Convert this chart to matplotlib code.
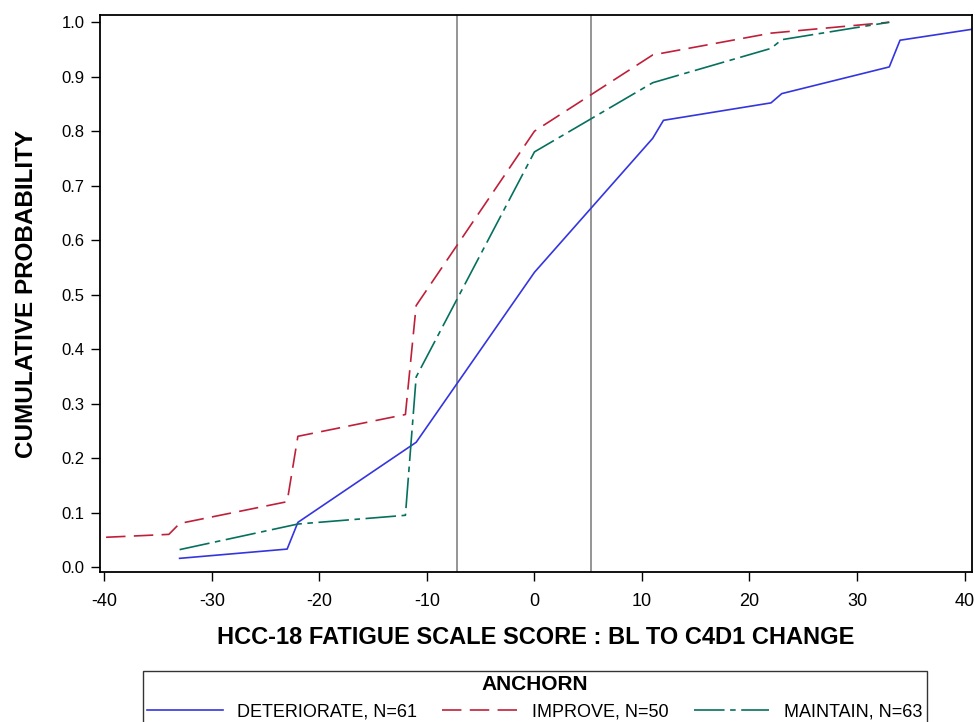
import matplotlib
matplotlib.use("Agg")
import matplotlib.pyplot as plt

# Cumulative distribution of change score by anchor group
x_det = [-33, -23, -22, -11, 0, 11, 12, 22, 23, 33, 34, 45]
y_det = [0.016, 0.033, 0.082, 0.229, 0.541, 0.787, 0.820, 0.852, 0.869, 0.918, 0.967, 1.0]

x_imp = [-45, -34, -33, -23, -22, -12, -11, 0, 11, 22, 33]
y_imp = [0.05, 0.06, 0.08, 0.12, 0.24, 0.28, 0.48, 0.80, 0.94, 0.98, 1.0]

x_mai = [-33, -22, -12, -11, 0, 11, 22, 23, 33]
y_mai = [0.032, 0.079, 0.095, 0.349, 0.762, 0.889, 0.952, 0.968, 1.0]

ref_lines = [-7.2, 5.25]

labels = ["DETERIORATE, N=61", "IMPROVE, N=50", "MAINTAIN, N=63"]
x_ticks = list(range(-40, 41, 10))
y_ticks = [i / 10 for i in range(11)]

plt.rcParams['lines.scale_dashes'] = False
font = ['Liberation Sans', 'DejaVu Sans']

fig = plt.figure(figsize=(9.75, 7.22), dpi=100)
ax = fig.add_axes([0.1026, 0.2078, 0.8944, 0.7712])

for xv in ref_lines:
    ax.axvline(xv, color='#8c8c8c', lw=1.3, zorder=1)

ax.plot(x_det, y_det, color='#3535e0', lw=1.2, label=labels[0])
ax.plot(x_imp, y_imp, color='#c01f3a', lw=1.2, linestyle=(0, (14, 6)), label=labels[1])
ax.plot(x_mai, y_mai, color='#05705e', lw=1.2, linestyle=(0, (22, 4, 4, 4)), label=labels[2])

ax.set_xlim(-40.4, 40.7)
ax.set_ylim(-0.009, 1.013)
ax.set_xticks(x_ticks)
ax.set_yticks(y_ticks)
ax.set_xticklabels([str(t) for t in x_ticks], family=font, fontsize=13)
ax.set_yticklabels([f"{t:.1f}" for t in y_ticks], family=font, fontsize=12)
ax.tick_params(direction='out', length=6.5, width=1)
ax.tick_params(axis='x', pad=9)
ax.tick_params(axis='y', pad=4.5)

for s in ax.spines.values():
    s.set_linewidth(1.3)

ax.set_xlabel("HCC-18 FATIGUE SCALE SCORE : BL TO C4D1 CHANGE",
              family=font, fontweight='bold', fontsize=17, labelpad=11)
ax.set_ylabel("CUMULATIVE PROBABILITY", family=font, fontweight='bold',
              fontsize=17.5, labelpad=17)

x0 = 142.7 / 975
w = (926.7 - 142.7) / 975
top = 1 - 670.7 / 722
leg = fig.legend(loc='upper left', bbox_to_anchor=(x0, top - 0.12, w, 0.12),
                 mode='expand', ncol=3, frameon=True, fancybox=False,
                 edgecolor='black', title="ANCHORN", handlelength=4.2,
                 borderaxespad=0, borderpad=0.25, handletextpad=0.8,
                 prop={'family': font, 'size': 13},
                 title_fontproperties={'family': font, 'weight': 'bold', 'size': 15})
leg.get_frame().set_linewidth(1.0)

fig.savefig("out.png", dpi=100)
